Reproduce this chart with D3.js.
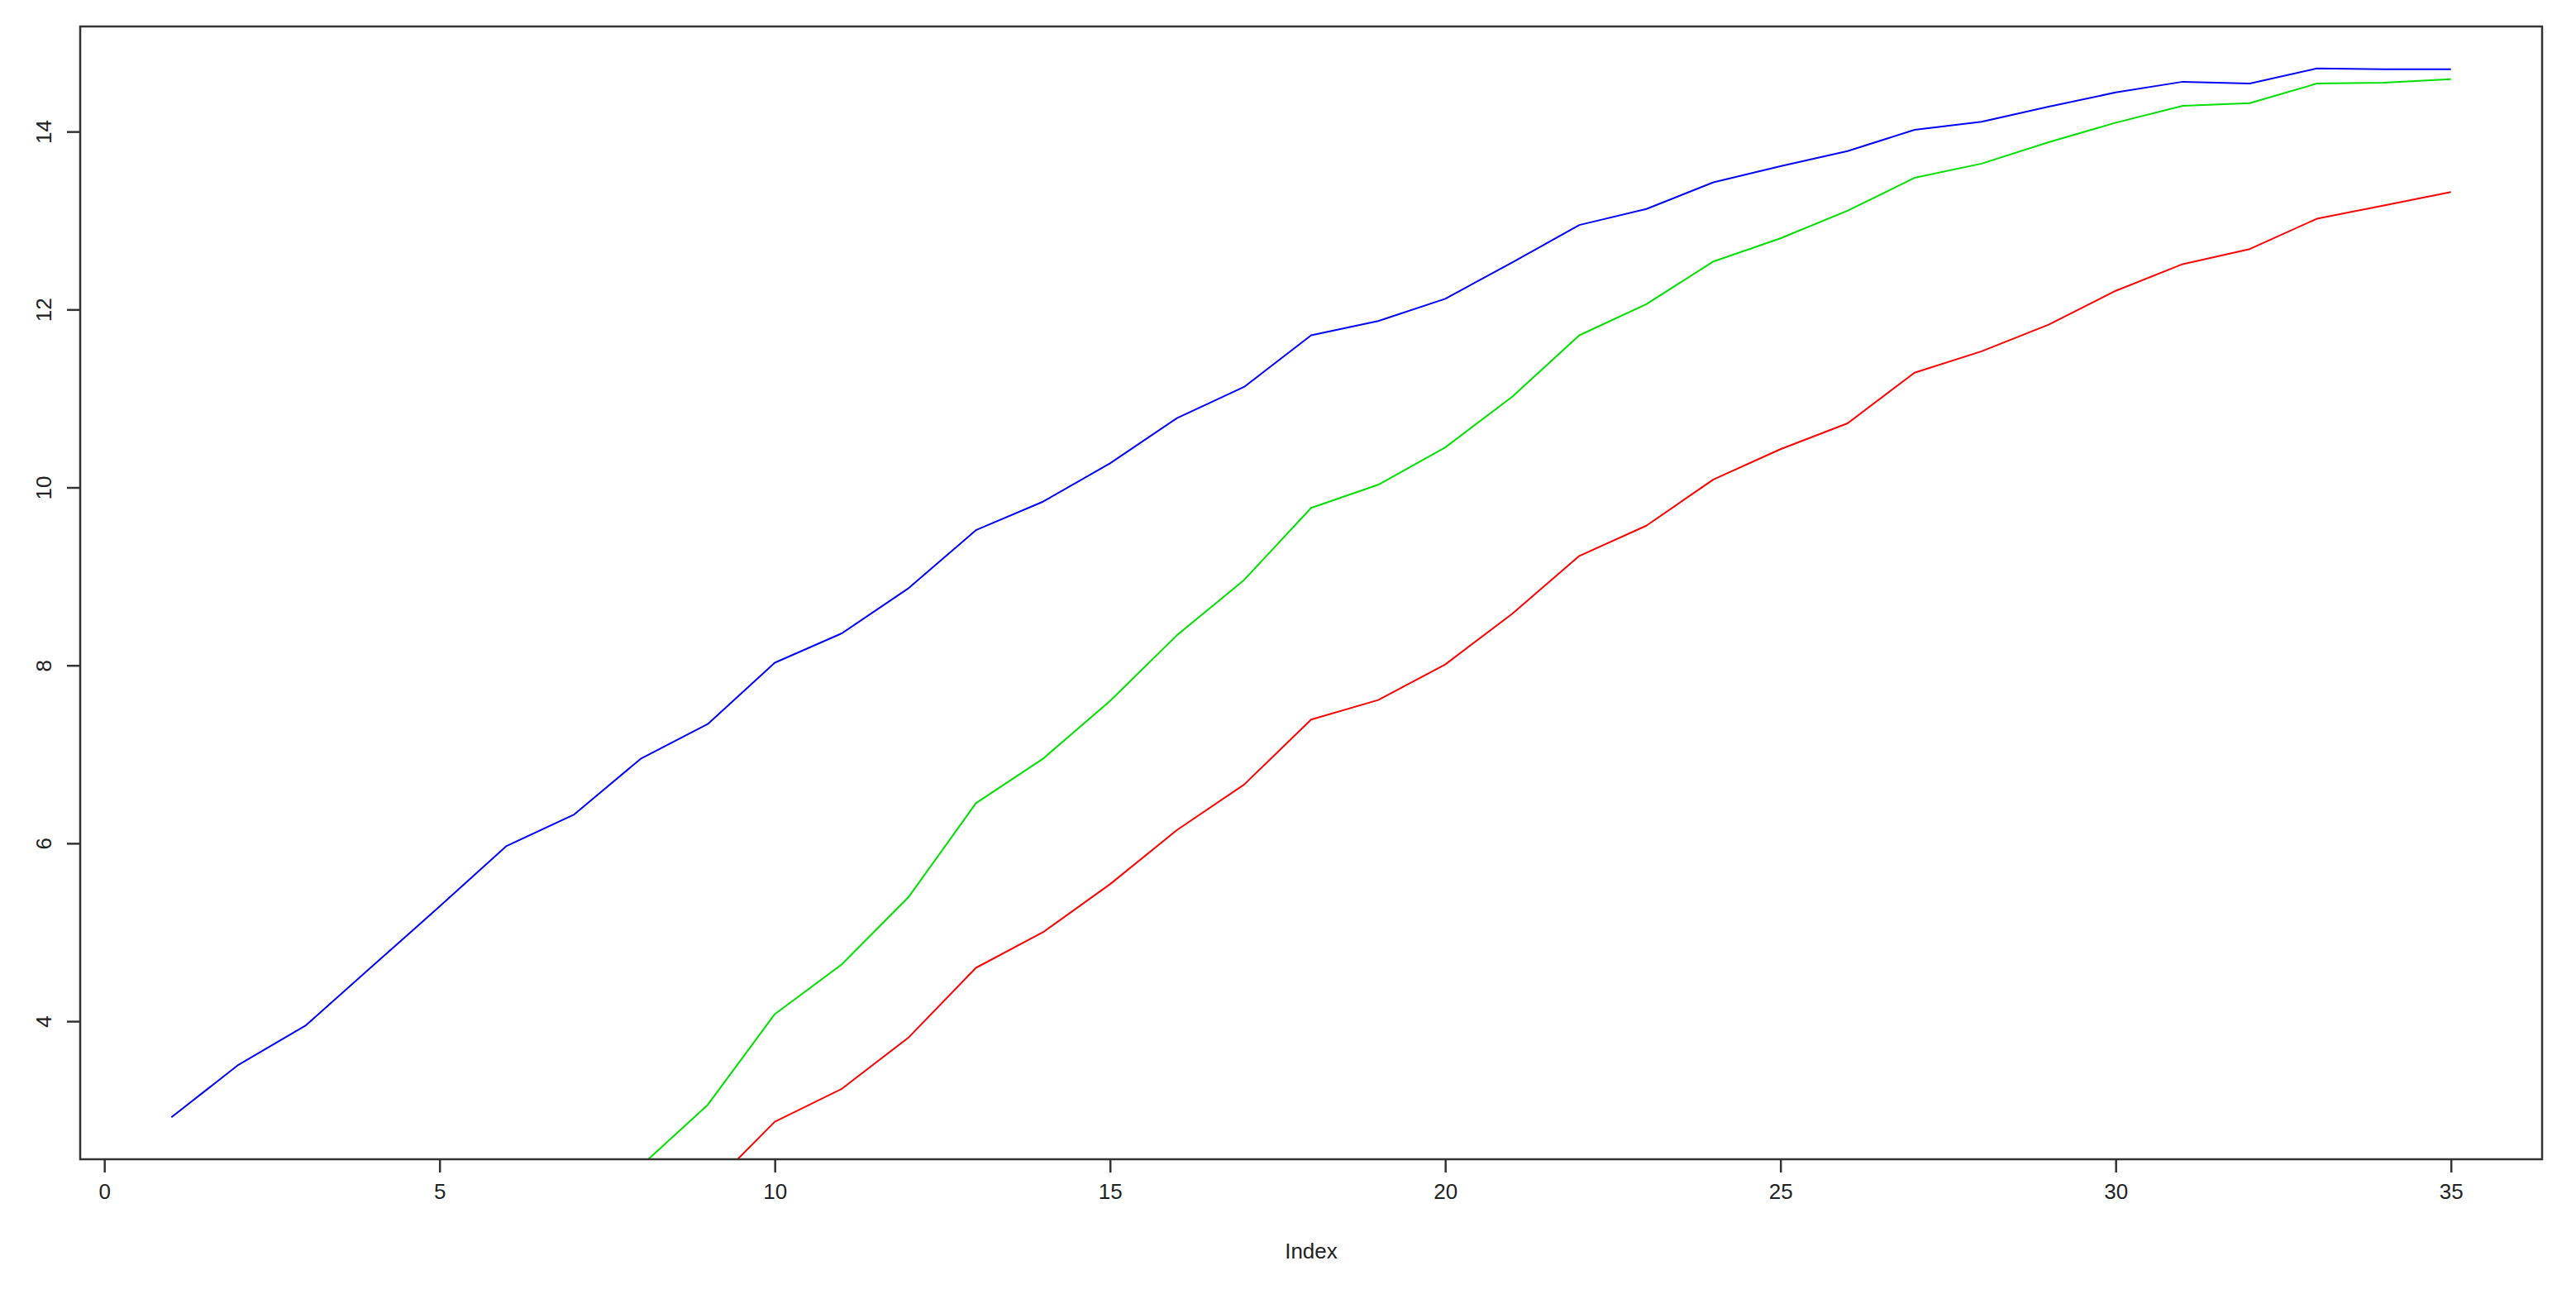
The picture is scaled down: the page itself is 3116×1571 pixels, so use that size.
<!DOCTYPE html>
<html>
<head>
<meta charset="utf-8">
<script src="https://cdn.jsdelivr.net/npm/d3@7"></script>
<style>
  html, body { margin: 0; padding: 0; background: #fff; }
  svg { display: block; font-family: "Liberation Sans", Arial, sans-serif; }
</style>
</head>
<body>
<svg id="chart" width="3116" height="1571"></svg>
<script>
// ---- data ----
const index = d3.range(1, 36);
const blueValues = [2.92, 3.51, 3.95, 4.62, 5.29, 5.97, 6.32, 6.95, 7.34, 8.03, 8.36, 8.87, 9.52, 9.84, 10.27, 10.78, 11.13, 11.71, 11.87, 12.12, 12.53, 12.95, 13.13, 13.43, 13.61, 13.78, 14.02, 14.11, 14.28, 14.44, 14.56, 14.54, 14.71, 14.70, 14.70];
const greenValues = [null, null, null, null, null, null, null, 2.37, 3.06, 4.08, 4.64, 5.40, 6.45, 6.95, 7.60, 8.34, 8.96, 9.77, 10.03, 10.45, 11.02, 11.71, 12.06, 12.54, 12.80, 13.11, 13.48, 13.64, 13.88, 14.10, 14.29, 14.32, 14.54, 14.55, 14.59];
const redValues = [null, null, null, null, null, null, null, null, 2.11, 2.87, 3.24, 3.82, 4.60, 5.00, 5.54, 6.15, 6.66, 7.39, 7.61, 8.01, 8.58, 9.23, 9.57, 10.09, 10.43, 10.72, 11.29, 11.53, 11.83, 12.21, 12.51, 12.68, 13.02, 13.17, 13.32];
const xTicks = [0, 5, 10, 15, 20, 25, 30, 35];
const yTicks = [4, 6, 8, 10, 12, 14];
const xLabel = "Index";

const series = [
  { name: "blue", values: blueValues, color: "#0000ff" },
  { name: "green", values: greenValues, color: "#00e000" },
  { name: "red", values: redValues, color: "#ff0000" }
];

// ---- layout ----
const box = { left: 97, right: 3075, top: 32, bottom: 1402 };
const svg = d3.select("#chart");

// R-style 4% axis extension
function extend(ext) { const d = (ext[1] - ext[0]) * 0.04; return [ext[0] - d, ext[1] + d]; }
const xDom = extend(d3.extent(index));
const yDom = extend(d3.extent(blueValues));

const x = d3.scaleLinear().domain(xDom).range([box.left, box.right]);
const y = d3.scaleLinear().domain(yDom).range([box.bottom, box.top]);

svg.append("defs").append("clipPath").attr("id", "plotclip")
  .append("rect")
  .attr("x", box.left).attr("y", box.top)
  .attr("width", box.right - box.left).attr("height", box.bottom - box.top);

// lines
const line = d3.line()
  .defined(d => d[1] !== null)
  .x(d => x(d[0]))
  .y(d => y(d[1]));

const gLines = svg.append("g").attr("clip-path", "url(#plotclip)");
series.forEach(s => {
  gLines.append("path")
    .datum(index.map((i, k) => [i, s.values[k]]))
    .attr("fill", "none")
    .attr("stroke", s.color)
    .attr("stroke-width", 2)
    .attr("stroke-linejoin", "round")
    .attr("d", line);
});

// box
svg.append("rect")
  .attr("x", box.left).attr("y", box.top)
  .attr("width", box.right - box.left).attr("height", box.bottom - box.top)
  .attr("fill", "none").attr("stroke", "#333").attr("stroke-width", 2.5);

// x axis
const xAxis = d3.axisBottom(x).tickValues(xTicks).tickSize(16).tickPadding(14).tickFormat(d3.format("d"));
const gx = svg.append("g").attr("transform", `translate(0,${box.bottom})`).call(xAxis);
gx.select(".domain").remove();
gx.selectAll(".tick line").attr("stroke", "#333").attr("stroke-width", 2.5);
gx.selectAll(".tick text").attr("fill", "#222").attr("font-size", 26)
  .attr("font-family", "'Liberation Sans', Arial, sans-serif");

// y axis
const yAxis = d3.axisLeft(y).tickValues(yTicks).tickSize(16).tickFormat(d3.format("d"));
const gy = svg.append("g").attr("transform", `translate(${box.left},0)`).call(yAxis);
gy.select(".domain").remove();
gy.selectAll(".tick line").attr("stroke", "#333").attr("stroke-width", 2.5);
gy.selectAll(".tick text")
  .attr("fill", "#222").attr("font-size", 26)
  .attr("font-family", "'Liberation Sans', Arial, sans-serif")
  .attr("x", null).attr("dy", null)
  .attr("text-anchor", "middle")
  .attr("transform", "translate(-35,0) rotate(-90)");

// x label
svg.append("text")
  .attr("x", (box.left + box.right) / 2)
  .attr("y", 1522)
  .attr("text-anchor", "middle")
  .attr("font-size", 26)
  .attr("fill", "#222")
  .text(xLabel);
</script>
</body>
</html>
